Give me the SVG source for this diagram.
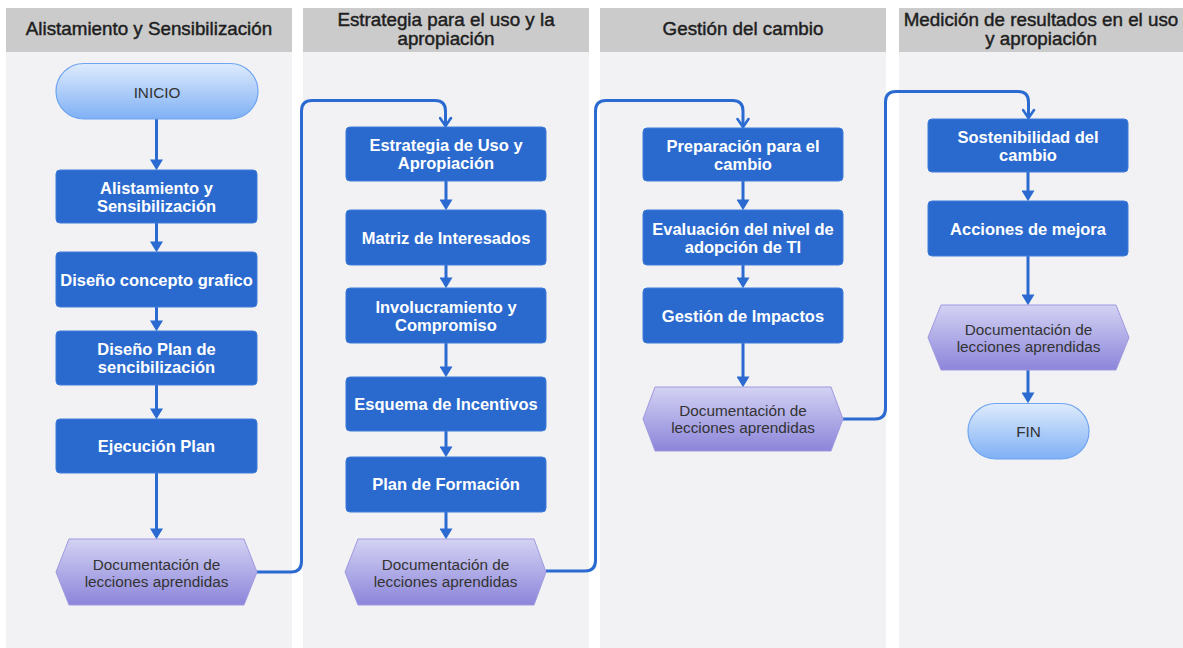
<svg xmlns="http://www.w3.org/2000/svg" width="1183" height="648" viewBox="0 0 1183 648">
<defs>
<linearGradient id="gPill" x1="0" y1="0" x2="0" y2="1">
<stop offset="0" stop-color="#deebfd"/>
<stop offset="1" stop-color="#7fb0f5"/>
</linearGradient>
<linearGradient id="gHex" x1="0" y1="0" x2="0" y2="1">
<stop offset="0" stop-color="#d3d2f3"/>
<stop offset="1" stop-color="#8c85da"/>
</linearGradient>
<marker id="tri" markerUnits="userSpaceOnUse" viewBox="0 0 10 12" markerWidth="11" markerHeight="13" refX="7" refY="6" orient="auto">
<path d="M0,0 L10,6 L0,12 z" fill="#2b6bd1"/>
</marker>
<marker id="vee" markerUnits="userSpaceOnUse" viewBox="0 0 12 14" markerWidth="12" markerHeight="14" refX="10" refY="7" orient="auto">
<path d="M2,1.5 L10,7 L2,12.5" fill="none" stroke="#2b6bd1" stroke-width="2.6" stroke-linecap="round" stroke-linejoin="round"/>
</marker>
<style>
.hdr{fill:#cbcbcb}
.body{fill:#f2f2f5}
.ht{font-family:"Liberation Sans",Arial,sans-serif;font-size:18.8px;fill:#1e1e1e;stroke:#1e1e1e;stroke-width:0.45;text-anchor:middle}
.box{fill:#2a6acf;stroke:#3f7bd8;stroke-width:1}
.bt{font-family:"Liberation Sans",Arial,sans-serif;font-size:16.5px;font-weight:bold;fill:#ffffff;text-anchor:middle}
.hex{fill:url(#gHex);stroke:#9f99e0;stroke-width:1}
.pill{fill:url(#gPill);stroke:#6ea4f1;stroke-width:1.2}
.lt{font-family:"Liberation Sans",Arial,sans-serif;font-size:15.3px;fill:#333333;text-anchor:middle}
.c{fill:none;stroke:#2b6bd1;stroke-width:3}
.ci{marker-end:url(#tri)}
.cx{marker-end:url(#vee)}
</style>
</defs>
<rect x="0" y="0" width="1183" height="648" fill="#ffffff"/>
<g id="lanes">
<rect class="body" x="6" y="52" width="286" height="596"/>
<rect class="hdr" x="6" y="8" width="286" height="44"/>
<text class="ht" x="149" y="35">Alistamiento y Sensibilización</text>
<rect class="body" x="303" y="52" width="286" height="596"/>
<rect class="hdr" x="303" y="8" width="286" height="44"/>
<text class="ht" x="446" y="26">Estrategia para el uso y la</text>
<text class="ht" x="446" y="45">apropiación</text>
<rect class="body" x="600" y="52" width="286" height="596"/>
<rect class="hdr" x="600" y="8" width="286" height="44"/>
<text class="ht" x="743" y="35">Gestión del cambio</text>
<rect class="body" x="899" y="52" width="284" height="596"/>
<rect class="hdr" x="899" y="8" width="284" height="44"/>
<text class="ht" x="1041" y="26">Medición de resultados en el uso</text>
<text class="ht" x="1041" y="45">y apropiación</text>
</g>
<g id="connectors">
<path class="c ci" d="M156.5,119 V167"/>
<path class="c ci" d="M156.5,223 V249"/>
<path class="c ci" d="M156.5,307 V328"/>
<path class="c ci" d="M156.5,385 V416"/>
<path class="c ci" d="M156.5,473 V536"/>
<path class="c cx" d="M257,572 H291 Q301.5,572 301.5,561.5 V111 Q301.5,100.5 312,100.5 H435 Q445.5,100.5 445.5,111 V126"/>
<path class="c ci" d="M446,181 V207"/>
<path class="c ci" d="M446,265 V285"/>
<path class="c ci" d="M446,343 V374"/>
<path class="c ci" d="M446,431 V454"/>
<path class="c ci" d="M446,512 V536"/>
<path class="c cx" d="M546,571 H585 Q595.5,571 595.5,560.5 V111 Q595.5,100.5 606,100.5 H732.5 Q743,100.5 743,111 V127"/>
<path class="c ci" d="M743,181 V207"/>
<path class="c ci" d="M743,265 V285"/>
<path class="c ci" d="M743,343 V384"/>
<path class="c cx" d="M843,419 H875 Q885.5,419 885.5,408.5 V102 Q885.5,91.5 896,91.5 H1018 Q1028.5,91.5 1028.5,102 V118"/>
<path class="c ci" d="M1028,172 V198"/>
<path class="c ci" d="M1028,256 V302"/>
<path class="c ci" d="M1028,370 V400"/>
</g>
<g id="n-inicio">
<rect class="pill" x="56" y="63.5" width="202" height="55.5" rx="27.7"/>
<text class="lt" x="157" y="98">INICIO</text>
</g>
<g id="n-alistamiento">
<rect class="box" x="56" y="170" width="201" height="53" rx="4"/>
<text class="bt" x="156.5" y="194">Alistamiento y</text>
<text class="bt" x="156.5" y="212">Sensibilización</text>
</g>
<g id="n-concepto">
<rect class="box" x="56" y="252" width="201" height="55" rx="4"/>
<text class="bt" x="156.5" y="285.5">Diseño concepto grafico</text>
</g>
<g id="n-plan-sens">
<rect class="box" x="56" y="331" width="201" height="54" rx="4"/>
<text class="bt" x="156.5" y="355">Diseño Plan de</text>
<text class="bt" x="156.5" y="373">sencibilización</text>
</g>
<g id="n-ejecucion">
<rect class="box" x="56" y="419" width="201" height="54" rx="4"/>
<text class="bt" x="156.5" y="451.5">Ejecución Plan</text>
</g>
<g id="n-doc1">
<polygon class="hex" points="56,572 69,539 244,539 257,572 244,605 69,605"/>
<text class="lt" x="156.5" y="569.5">Documentación de</text>
<text class="lt" x="156.5" y="586.5">lecciones aprendidas</text>
</g>
<g id="n-estrategia">
<rect class="box" x="346" y="127" width="200" height="54" rx="4"/>
<text class="bt" x="446" y="151">Estrategia de Uso y</text>
<text class="bt" x="446" y="169">Apropiación</text>
</g>
<g id="n-matriz">
<rect class="box" x="346" y="210" width="200" height="55" rx="4"/>
<text class="bt" x="446" y="243.5">Matriz de Interesados</text>
</g>
<g id="n-involucramiento">
<rect class="box" x="346" y="288" width="200" height="55" rx="4"/>
<text class="bt" x="446" y="312.5">Involucramiento y</text>
<text class="bt" x="446" y="330.5">Compromiso</text>
</g>
<g id="n-incentivos">
<rect class="box" x="346" y="377" width="200" height="54" rx="4"/>
<text class="bt" x="446" y="409.5">Esquema de Incentivos</text>
</g>
<g id="n-formacion">
<rect class="box" x="346" y="457" width="200" height="55" rx="4"/>
<text class="bt" x="446" y="490">Plan de Formación</text>
</g>
<g id="n-doc2">
<polygon class="hex" points="345,572 358,539 534,539 546,572 534,605 358,605"/>
<text class="lt" x="445.5" y="569.5">Documentación de</text>
<text class="lt" x="445.5" y="586.5">lecciones aprendidas</text>
</g>
<g id="n-preparacion">
<rect class="box" x="643" y="128" width="200" height="53" rx="4"/>
<text class="bt" x="743" y="151.5">Preparación para el</text>
<text class="bt" x="743" y="169.5">cambio</text>
</g>
<g id="n-evaluacion">
<rect class="box" x="643" y="210" width="200" height="55" rx="4"/>
<text class="bt" x="743" y="234.5">Evaluación del nivel de</text>
<text class="bt" x="743" y="252.5">adopción de TI</text>
</g>
<g id="n-impactos">
<rect class="box" x="643" y="288" width="200" height="55" rx="4"/>
<text class="bt" x="743" y="321.5">Gestión de Impactos</text>
</g>
<g id="n-doc3">
<polygon class="hex" points="643,419 655,387 831,387 843,419 831,451 655,451"/>
<text class="lt" x="743" y="416">Documentación de</text>
<text class="lt" x="743" y="433">lecciones aprendidas</text>
</g>
<g id="n-sostenibilidad">
<rect class="box" x="928" y="119" width="200" height="53" rx="4"/>
<text class="bt" x="1028" y="142.5">Sostenibilidad del</text>
<text class="bt" x="1028" y="160.5">cambio</text>
</g>
<g id="n-acciones">
<rect class="box" x="928" y="201" width="200" height="55" rx="4"/>
<text class="bt" x="1028" y="234.5">Acciones de mejora</text>
</g>
<g id="n-doc4">
<polygon class="hex" points="928,337.5 941,305 1116,305 1129,337.5 1116,370 941,370"/>
<text class="lt" x="1028.5" y="334.5">Documentación de</text>
<text class="lt" x="1028.5" y="351.5">lecciones aprendidas</text>
</g>
<g id="n-fin">
<rect class="pill" x="968" y="403.5" width="121" height="55.5" rx="27.7"/>
<text class="lt" x="1028.5" y="436.5">FIN</text>
</g>
</svg>
